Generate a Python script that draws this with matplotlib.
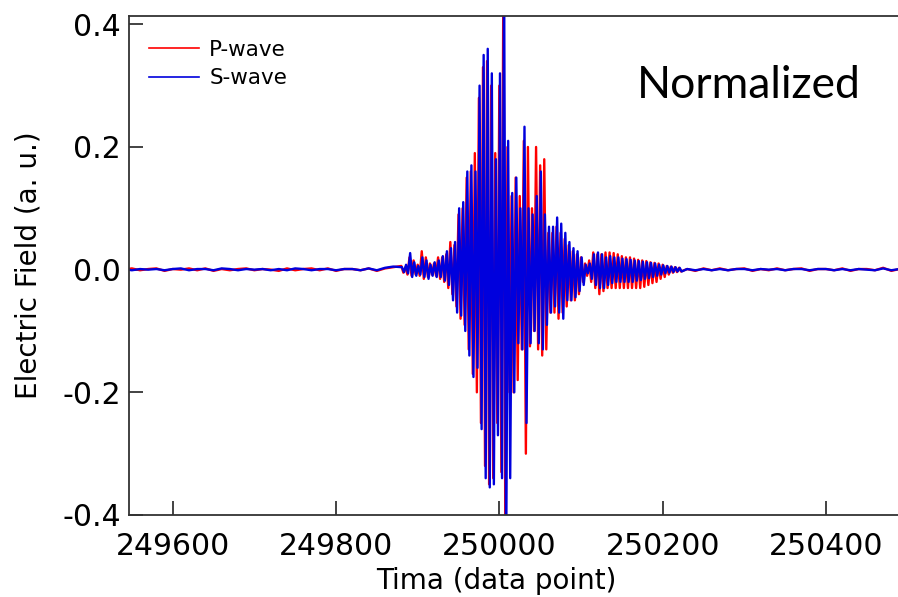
import matplotlib
matplotlib.use("Agg")
import matplotlib.pyplot as plt
import numpy as np

plt.rcParams['axes.unicode_minus'] = False

# ---- data ----
x_ticks = [249600, 249800, 250000, 250200, 250400]
y_ticks = [-0.4, -0.2, 0.0, 0.2, 0.4]
y_labels = ['-0.4', '-0.2', '0.0', '0.2', '0.4']

# quiet parts (every 10 data points)
pre_start, post_start, quiet_step = 249540, 250230, 10
p_pre = [0, .002, -.001, .001, .002, -.002, .001, 0, .002, -.001, .002, -.002,
         .001, -.001, .001, .002, -.001, .001, 0, -.002, .002, -.001, .001, .002,
         -.001, .002, -.002, .001, .001, -.001, .002, -.002, .002, .004]
s_pre = [.001, -.001, .001, 0, .001, -.001, .001, .002, -.001, .001, .001, -.001,
         .002, .001, -.001, .001, 0, .001, -.001, .001, -.001, .002, .001, -.001,
         .001, .001, -.001, .001, .001, -.001, .002, -.001, .003, .005]
p_post = [.001, -.002, .002, -.001, .002, -.001, .001, .002, -.002, .001, -.001,
          .002, -.001, .001, .002, -.002, .001, .001, -.001, .002, -.002, .001,
          .001, -.001, .003, -.002, .001]
s_post = [.001, -.001, .001, -.001, .001, -.001, .001, .001, -.001, .001, 0,
          .001, -.001, .001, .001, -.001, .001, .001, -.001, .001, -.001, .001,
          0, -.001, .002, -.001, .001]

# burst: one up/down cycle every 5 data points
burst_start, burst_step = 249880, 5
s_top = [.004, .008, .027, .012, .006, .02, .015, .008, .012, .015, .022, .03,
         .035, .045, .10, .11, .16, .17, .16, .30, .35, .36, .32, .18, .32, .5,
         .21, .125, .15, .10, .233, .10, .09, .12, .16, .09, .07, .07, .085, .075,
         .06, .045, .035, .03, .02, .008, .01, .025, .028, .025, .02, .022, .02,
         .02, .018, .017, .016, .015, .014, .013, .012, .011, .01, .008, .007,
         .006, .005, .004, .003]
s_bot = [-.004, -.006, -.012, -.01, -.008, -.012, -.015, -.01, -.012, -.012,
         -.018, -.025, -.05, -.07, -.075, -.10, -.14, -.175, -.16, -.26, -.34,
         -.355, -.35, -.27, -.34, -.5, -.34, -.20, -.12, -.13, -.25, -.12, -.10,
         -.12, -.13, -.09, -.07, -.06, -.07, -.08, -.05, -.05, -.045, -.035,
         -.025, -.006, -.015, -.025, -.03, -.03, -.025, -.022, -.02, -.02, -.02,
         -.02, -.02, -.018, -.017, -.015, -.014, -.012, -.01, -.008, -.006,
         -.005, -.004, -.003, -.003]
p_top = [.006, .004, .02, .015, .008, .03, .02, .01, .01, .02, .02, .025, .045,
         .04, .09, .10, .15, .16, .19, .28, .33, .34, .30, .19, .30, .5, .20, .12,
         .15, .12, .21, .20, .10, .20, .17, .18, .06, .06, .07, .06, .05, .04,
         .03, .025, .02, .01, .015, .028, .025, .025, .028, .028, .027, .025,
         .022, .02, .02, .018, .016, .015, .014, .012, .011, .01, .008, .006,
         .005, .004, .003]
p_bot = [-.005, -.008, -.01, -.008, -.01, -.015, -.012, -.008, -.01, -.015,
         -.02, -.03, -.04, -.06, -.08, -.09, -.13, -.17, -.20, -.25, -.32, -.35,
         -.34, -.25, -.33, -.5, -.20, -.20, -.18, -.13, -.30, -.125, -.10, -.13,
         -.14, -.13, -.07, -.07, -.08, -.07, -.06, -.05, -.05, -.04, -.02, -.01,
         -.02, -.03, -.04, -.035, -.03, -.03, -.03, -.03, -.03, -.03, -.03, -.03,
         -.03, -.028, -.025, -.022, -.02, -.015, -.012, -.008, -.005, -.004,
         -.003]


def trace(pre, top, bot, post, shift):
    t_pre = pre_start + quiet_step * np.arange(len(pre))
    t_b = burst_start + shift + burst_step * np.arange(len(top))
    t_post = post_start + quiet_step * np.arange(len(post))
    xb = np.column_stack([t_b, t_b + burst_step / 2]).ravel()
    yb = np.column_stack([top, bot]).ravel()
    x = np.concatenate([t_pre, xb, t_post])
    y = np.concatenate([pre, yb, post])
    return x, y


fig = plt.figure(figsize=(8.98, 5.97), dpi=100)
ax = fig.add_axes([129/898, 82/597, 769/898, 499/597])

px, py = trace(p_pre, p_top, p_bot, p_post, 0)
sx, sy = trace(s_pre, s_top, s_bot, s_post, 0.8)
ax.plot(px, py, color='#ff0000', lw=1.7, label='P-wave')
ax.plot(sx, sy, color='#0000dd', lw=1.7, label='S-wave')

ax.set_xlim(249546.5, 250488.2)
ax.set_ylim(-0.4, 0.4135)
ax.set_xticks(x_ticks)
ax.set_xticklabels([str(v) for v in x_ticks])
ax.set_yticks(y_ticks)
ax.set_yticklabels(y_labels)
ax.tick_params(direction='in', length=10, width=1.2, labelsize=21.5,
               colors='#222222', labelcolor='black')
ax.tick_params(axis='x', pad=12)
ax.tick_params(axis='y', pad=6)
ax.spines['right'].set_visible(False)
for s in ['left', 'bottom', 'top']:
    ax.spines[s].set_linewidth(1.3)
    ax.spines[s].set_color('#333333')

ax.set_xlabel('Tima (data point)', fontsize=20)
ax.xaxis.set_label_coords(0.477, -0.105)
ax.set_ylabel('Electric Field (a. u.)', fontsize=20)
ax.yaxis.set_label_coords(-0.112, 0.5)

leg = ax.legend(loc='upper left', bbox_to_anchor=(0.026, 0.952), frameon=False,
                fontsize=15.5, handlelength=2.3, handletextpad=0.5,
                labelspacing=0.38, borderpad=0, borderaxespad=0)
for line in leg.get_lines():
    line.set_linewidth(1.2)

fig.text(749/898, 1 - 98/597, 'Normalized', fontsize=32, family='Lato',
         ha='center', va='baseline')

fig.savefig('out.png', dpi=100)
